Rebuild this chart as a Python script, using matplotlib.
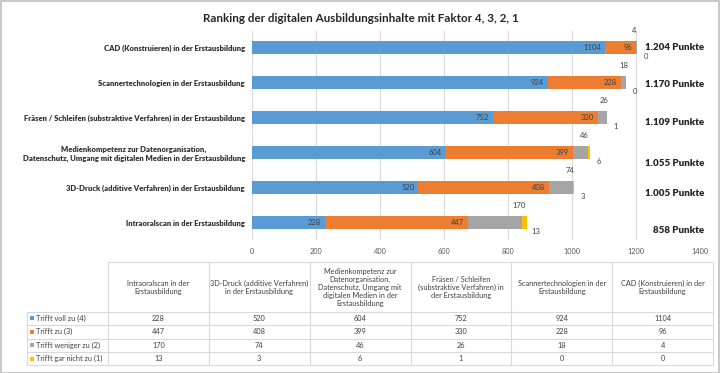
import numpy as np
import matplotlib.pyplot as plt
from matplotlib.patches import Rectangle

plt.rcParams['font.family'] = ['Lato', 'DejaVu Sans']

# Kategorien von unten nach oben (wie in der Excel-Vorlage)
categories = [
    "Intraoralscan in der Erstausbildung",
    "3D-Druck (additive Verfahren) in der Erstausbildung",
    "Medienkompetenz zur Datenorganisation,\nDatenschutz, Umgang mit digitalen Medien in der Erstausbildung",
    "Fräsen / Schleifen (substraktive Verfahren) in der Erstausbildung",
    "Scannertechnologien in der Erstausbildung",
    "CAD (Konstruieren) in der Erstausbildung",
]
table_headers = [
    "Intraoralscan in der\nErstausbildung",
    "3D-Druck (additive Verfahren)\nin der Erstausbildung",
    "Medienkompetenz zur\nDatenorganisation,\nDatenschutz, Umgang mit\ndigitalen Medien in der\nErstausbildung",
    "Fräsen / Schleifen\n(substraktive Verfahren) in\nder Erstausbildung",
    "Scannertechnologien in der\nErstausbildung",
    "CAD (Konstruieren) in der\nErstausbildung",
]
series_names = ["Trifft voll zu (4)", "Trifft zu (3)", "Trifft weniger zu (2)", "Trifft gar nicht zu (1)"]
voll = [228, 520, 604, 752, 924, 1104]
zu = [447, 408, 399, 330, 228, 96]
weniger = [170, 74, 46, 26, 18, 4]
gar_nicht = [13, 3, 6, 1, 0, 0]
colors = ["#5B9BD5", "#ED7D31", "#A5A5A5", "#FFC000"]

# Textfelder "Punkte" wurden in Excel von Hand verschoben (Pixel nach unten)
punkte_dy = [8, 5.5, 11, 4.5, 2, 0]

series = [voll, zu, weniger, gar_nicht]
W, H = 720, 373
fig = plt.figure(figsize=(W / 100, H / 100), dpi=100)

# Plotbereich
ax = fig.add_axes([252 / W, 1 - 240 / H, 448 / W, 209.5 / H])
y = np.arange(len(categories))
left = np.zeros(len(categories))
txt = '#404040'
for i, vals in enumerate(series):
    vals = np.array(vals)
    ax.barh(y, vals, left=left, height=0.37, color=colors[i], zorder=2)
    ends = left + vals
    for yy, v, e in zip(y, vals, ends):
        if i < 2:
            ax.annotate(str(v), (e, yy), xytext=(-4, 0), textcoords='offset pixels',
                        ha='right', va='center', fontsize=5.5, color=txt)
        elif i == 2:
            ax.annotate(str(v), (e, yy), xytext=(-3, 17), textcoords='offset pixels',
                        ha='center', va='center', fontsize=5.5, color=txt)
        else:
            ax.annotate(str(v), (e, yy), xytext=(9, -9), textcoords='offset pixels',
                        ha='center', va='center', fontsize=5.5, color=txt)
    left = ends

# Gesamtpunkte rechts
for yy, tot, dy in zip(y, left, punkte_dy):
    lab = f"{int(tot):,}".replace(",", ".") + " Punkte"
    ax.annotate(lab, (1.009, yy), xycoords=('axes fraction', 'data'),
                xytext=(0, -dy), textcoords='offset pixels', ha='right', va='center',
                fontsize=7, fontweight='heavy', color='#262626', annotation_clip=False)

ax.set_xlim(0, 1400)
ax.set_ylim(-0.5, len(categories) - 0.5)
ax.set_xticks(range(0, 1401, 200))
ax.set_yticks(y)
ax.set_yticklabels(categories, fontsize=5.5, fontweight='heavy', color='#333333')
for lab in ax.get_yticklabels():
    lab.set_multialignment('center')
ax.tick_params(axis='x', length=0, pad=5.5, labelsize=5.3, labelcolor='#595959')
ax.tick_params(axis='y', length=0, pad=5)
ax.xaxis.grid(True, color='#D9D9D9', lw=0.8)
ax.set_axisbelow(True)
for s in ax.spines.values():
    s.set_visible(False)

fig.text(361 / W, 1 - 18 / H, "Ranking der digitalen Ausbildungsinhalte mit Faktor 4, 3, 2, 1",
         ha='center', va='center', fontsize=8.4, fontweight='bold', color='#262626')

# Datentabelle unter dem Diagramm (Pixelkoordinaten)
tab = fig.add_axes([0, 0, 1, 1])
tab.set_xlim(0, W)
tab.set_ylim(H, 0)
tab.axis('off')
tab.patch.set_alpha(0)
col_edges = np.linspace(108, 713, len(categories) + 1)
head_top, head_bot, row_h = 262, 311.7, 13.4
row_edges = head_bot + row_h * np.arange(len(series) + 1)
lc = '#D9D9D9'
tab.plot([col_edges[0], col_edges[-1]], [head_top, head_top], color=lc, lw=0.8)
for r in row_edges:
    tab.plot([27, col_edges[-1]], [r, r], color=lc, lw=0.8)
for c in col_edges:
    tab.plot([c, c], [head_top, row_edges[-1]], color=lc, lw=0.8)
tab.plot([27, 27], [head_bot, row_edges[-1]], color=lc, lw=0.8)

for j, h in enumerate(table_headers):
    cx = (col_edges[j] + col_edges[j + 1]) / 2
    tab.text(cx, (head_top + head_bot) / 2 + 0.5, h, ha='center', va='center',
             fontsize=5.3, color=txt, linespacing=1.15)
for i, (name, vals) in enumerate(zip(series_names, series)):
    cy = (row_edges[i] + row_edges[i + 1]) / 2
    tab.add_patch(Rectangle((29.5, cy - 2), 4, 4, color=colors[i], lw=0))
    tab.text(35.5, cy, name, ha='left', va='center', fontsize=5.3, color=txt)
    for j, v in enumerate(vals):
        cx = (col_edges[j] + col_edges[j + 1]) / 2
        tab.text(cx, cy, str(v), ha='center', va='center', fontsize=5.3, color=txt)

# Rahmen des Excel-Diagramms
fig.add_artist(Rectangle((0.5 / W, 0.5 / H), 1 - 1.5 / W, 1 - 1.5 / H, transform=fig.transFigure,
                         fill=False, edgecolor='#BFBFBF', lw=1.2))

fig.savefig('out.png', dpi=100)
